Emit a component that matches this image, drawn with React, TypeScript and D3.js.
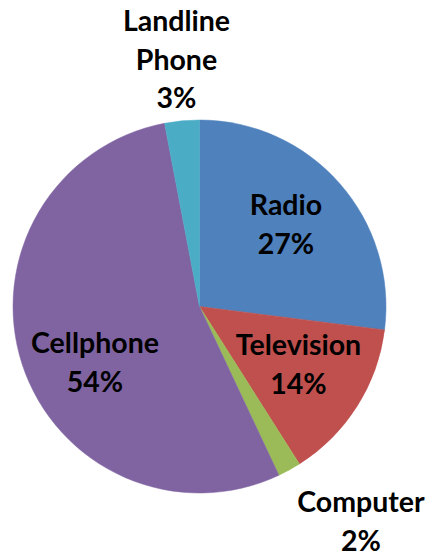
import React from "react";
import * as d3 from "d3";

const categories = ["Radio", "Television", "Computer", "Cellphone", "Landline Phone"];
const values = [27, 14, 2, 54, 3];
const colors = ["#4F81BD", "#C0504D", "#9BBB59", "#8064A2", "#4BACC6"];

const W = 430;
const H = 554;
const CX = 199.5;
const CY = 306.5;
const R = 186.5;

// label block anchors: [center x, first baseline y]
const labelLayout: Record<string, [number, number]> = {
  Radio: [286, 215],
  Television: [298.5, 355],
  Computer: [361, 512],
  Cellphone: [95, 353],
  "Landline Phone": [176.5, 31],
};

export default function App() {
  const data = categories.map((c, i) => ({ name: c, value: values[i], color: colors[i] }));
  const pie = d3.pie<any>().sort(null).value((d: any) => d.value).startAngle(0).endAngle(2 * Math.PI);
  const arcs = pie(data);
  const arc = d3.arc<any>().innerRadius(0).outerRadius(R);
  const total = d3.sum(values);
  const lineH = 38.5;

  return (
    <svg
      width={W}
      height={H}
      style={{ position: "absolute", left: 0, top: 0, background: "#fff" }}
      fontFamily="Lato, 'Open Sans', sans-serif"
    >
      <rect width={W} height={H} fill="#fff" />
      <g transform={`translate(${CX},${CY})`}>
        {arcs.map((a, i) => (
          <path key={i} d={arc(a) as string} fill={a.data.color} stroke={a.data.color} strokeWidth={0.5} />
        ))}
      </g>
      {arcs.map((a, i) => {
        const [x, y] = labelLayout[a.data.name];
        const lines =
          a.data.name === "Landline Phone"
            ? ["Landline", "Phone"]
            : [a.data.name];
        lines.push(`${Math.round((a.data.value / total) * 100)}%`);
        return (
          <text key={i} x={x} y={y} textAnchor="middle" fontSize={28.5} fontWeight={700} fill="#000">
            {lines.map((l, j) => (
              <tspan key={j} x={x} y={y + j * lineH}>
                {l}
              </tspan>
            ))}
          </text>
        );
      })}
    </svg>
  );
}
